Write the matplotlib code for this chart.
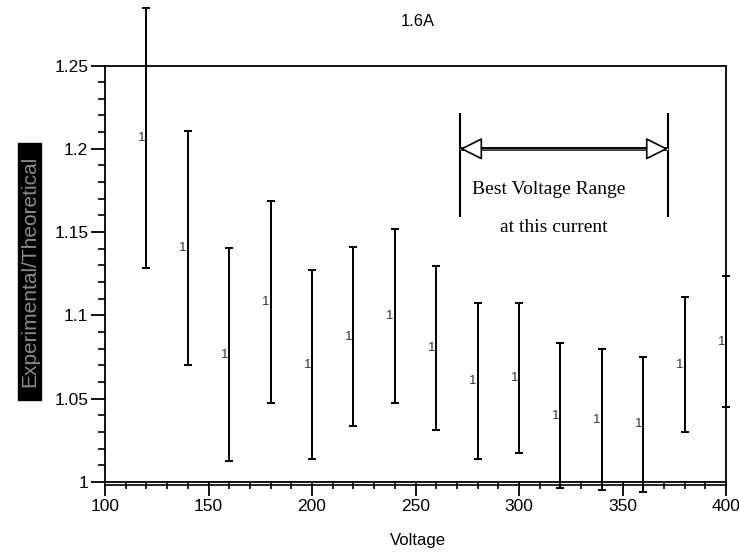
"""Experimental/theoretical ratio vs voltage at 1.6 A, with error bars."""

import matplotlib
matplotlib.use('Agg')
import matplotlib.pyplot as plt
from matplotlib.patches import Rectangle, FancyArrowPatch
from matplotlib.ticker import MultipleLocator
from matplotlib.transforms import offset_copy

IMAGE_FILE = 'out.png'

voltage = [120, 140, 160, 180, 200, 220, 240, 260, 280, 300, 320, 340, 360, 380, 400]
ratio = [1.2067, 1.1405, 1.0765, 1.108, 1.0705, 1.0872, 1.0996, 1.0804,
         1.0606, 1.0623, 1.0398, 1.0375, 1.0346, 1.0705, 1.0843]
ratio_err = [0.078, 0.070, 0.0637, 0.0607, 0.0567, 0.0538, 0.052, 0.0492,
             0.0468, 0.0451, 0.0435, 0.0423, 0.0404, 0.0405, 0.0395]

x_ticks = [100, 150, 200, 250, 300, 350, 400]
y_ticks = [1, 1.05, 1.1, 1.15, 1.2, 1.25]
y_tick_labels = ['1', '1.05', '1.1', '1.15', '1.2', '1.25']

best_range = (271.5, 372)  # voltage span marked as best

plt.rcParams['font.family'] = ['Liberation Sans', 'DejaVu Sans']

W, H = 739, 552
fig = plt.figure(figsize=(W / 100, H / 100), dpi=100)
ax = fig.add_axes([105 / W, 1 - 482 / H, 621 / W, 416.5 / H])

ax.errorbar(voltage, ratio, yerr=ratio_err, fmt='none', ecolor='black',
            elinewidth=1.4, capsize=2.6, capthick=1.4, clip_on=False, zorder=3)
for v, r in zip(voltage, ratio):
    ax.text(v, r, '1', ha='right', va='center', fontsize=9.5, color='#333333',
            transform=offset_copy(ax.transData, fig=fig, x=-1, y=0, units='dots'))

ax.set_xlim(100, 400)
ax.set_ylim(1, 1.25)
ax.set_xticks(x_ticks)
ax.set_yticks(y_ticks)
ax.set_yticklabels(y_tick_labels)
ax.xaxis.set_minor_locator(MultipleLocator(10))
ax.yaxis.set_minor_locator(MultipleLocator(0.01))
ax.tick_params(which='major', direction='out', length=10, width=1.3,
               labelsize=12.5, pad=2)
ax.tick_params(which='minor', direction='out', length=5, width=1.2)
for side in ax.spines.values():
    side.set_linewidth(1.3)

# second line just under the x axis
ax.plot([0, 1], [0, 0], color='black', lw=1.2, clip_on=False,
        transform=offset_copy(ax.transAxes, fig=fig, x=0, y=-2.6, units='dots'))

# best voltage range marker
ax.vlines(best_range, 1.159, 1.2215, color='black', lw=1.5)
ax.plot(best_range, [1.2, 1.2], color='black', lw=2.8, solid_capstyle='butt', zorder=2)
ax.plot(best_range, [1.2, 1.2], color='white', lw=1.0, solid_capstyle='butt', zorder=2)
ax.add_patch(FancyArrowPatch((best_range[0], 1.2), (best_range[1], 1.2),
                             arrowstyle='<|-|>,head_length=1.0,head_width=0.5',
                             mutation_scale=14, lw=1.2, ec='black', fc='white',
                             shrinkA=0, shrinkB=0, zorder=4))
ax.text(314.5, 1.1753, 'Best Voltage Range', ha='center', va='center',
        fontsize=14, family=['Liberation Serif', 'DejaVu Serif'])
ax.text(316.7, 1.153, 'at this current', ha='center', va='center',
        fontsize=14, family=['Liberation Serif', 'DejaVu Serif'])

fig.text(418 / W, 1 - 21 / H, '1.6A', ha='center', va='center', fontsize=12)
fig.text(418 / W, 1 - 540 / H, 'Voltage', ha='center', va='center', fontsize=12)

# y label drawn as grey text on a black block
fig.patches.append(Rectangle((17.7 / W, 1 - 400 / H), 23.3 / W, 257 / H,
                             transform=fig.transFigure, color='black'))
fig.text(29.4 / W, 1 - 271.5 / H, 'Experimental/Theoretical', rotation=90,
         ha='center', va='center', fontsize=15, color='#8c8c8c')

fig.savefig(IMAGE_FILE, dpi=100)
